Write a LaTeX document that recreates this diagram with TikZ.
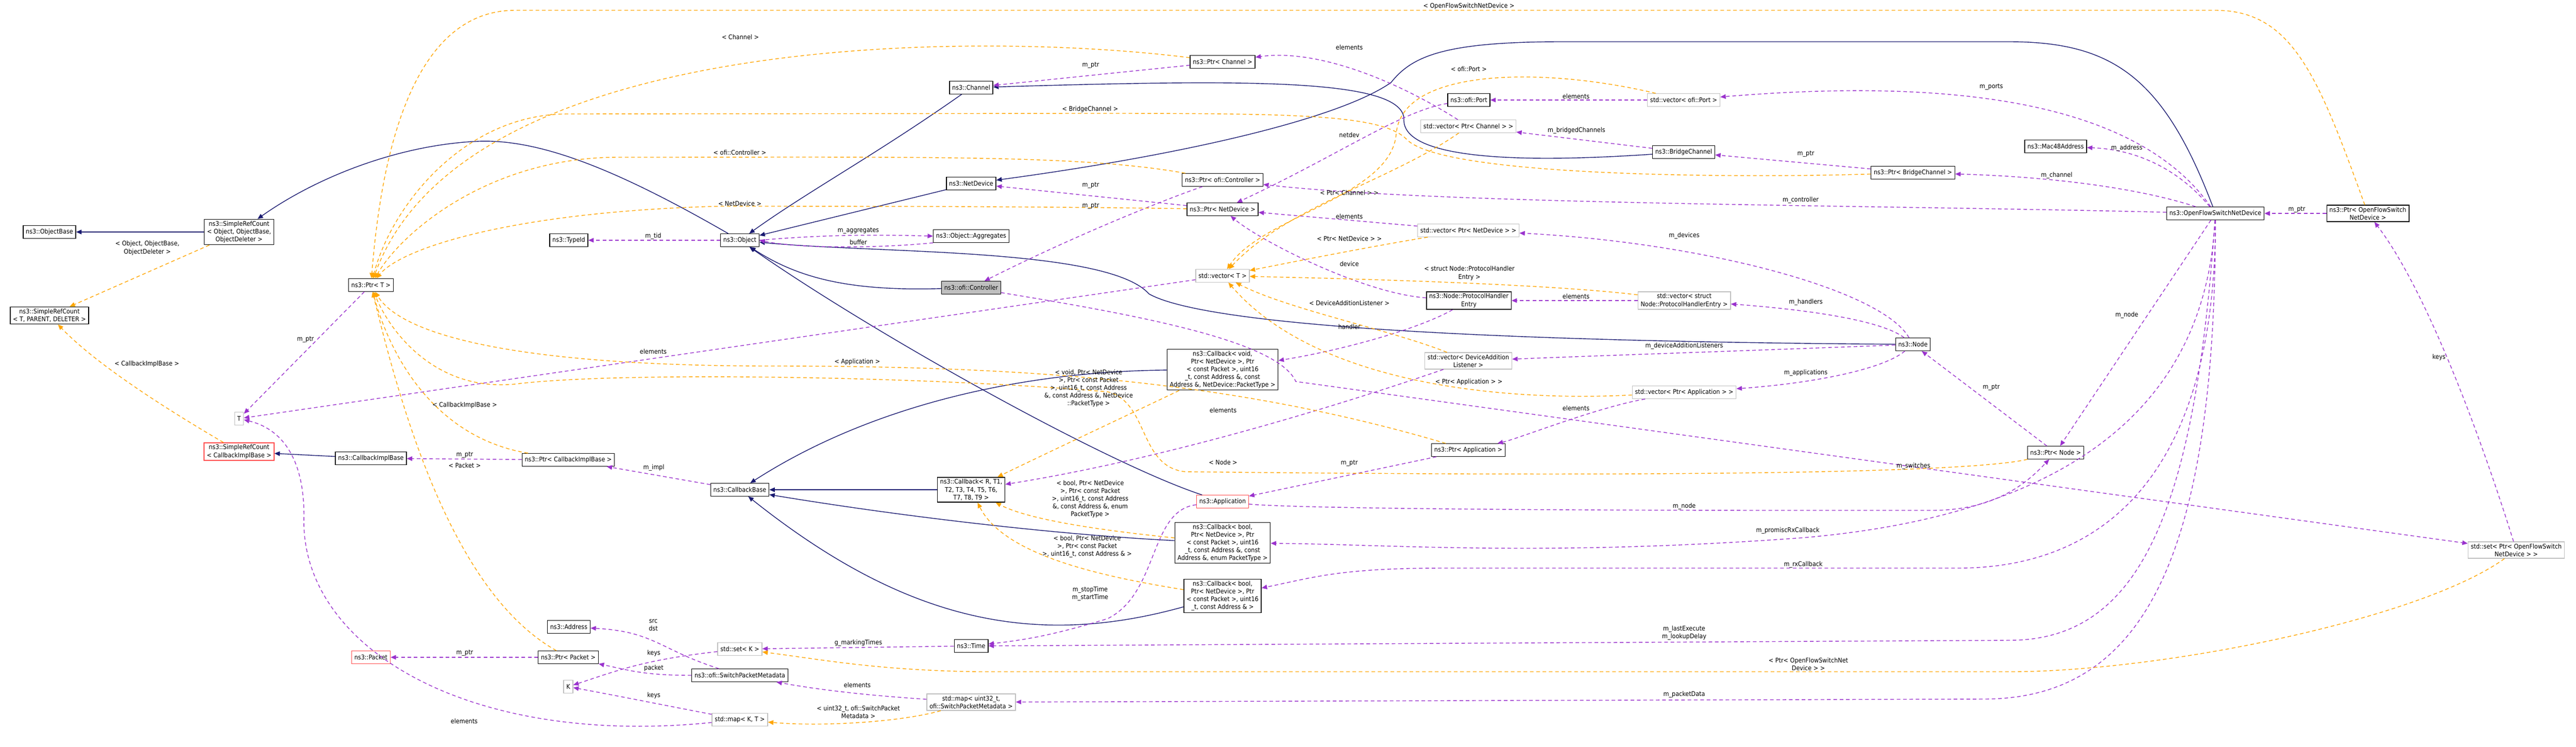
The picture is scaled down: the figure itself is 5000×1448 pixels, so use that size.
\documentclass[tikz,border=0pt]{standalone}
\usepackage{fontspec}
\setmainfont{DejaVu Sans Condensed}
\usetikzlibrary{arrows.meta}
\definecolor{navy}{HTML}{191970}
\definecolor{purp}{HTML}{9A32CD}
\definecolor{orng}{HTML}{FFA500}
\definecolor{gbord}{HTML}{BFBFBF}
\definecolor{rbord}{HTML}{FF0000}
\begin{document}
\begin{tikzpicture}[x=0.02cm,y=-0.02cm,
  every node/.style={font=\fontsize{7.1pt}{8.6pt}\selectfont},
  box/.style={draw=black,line width=0.8pt,fill=white,align=center,inner xsep=3pt,inner ysep=2pt,minimum height=14pt},
  gbox/.style={box,draw=gbord},
  rbox/.style={box,draw=rbord!70},
  sel/.style={box,fill=black!25},
  lab/.style={align=center,inner sep=0pt},
  inh/.style={draw=navy,line width=0.8pt,-{Triangle[length=6pt,width=5pt]}},
  use/.style={draw=purp,line width=0.8pt,dash pattern=on 4pt off 3pt,-{Triangle[length=6pt,width=5pt]}},
  tmpl/.style={draw=orng,line width=0.8pt,dash pattern=on 4pt off 3pt,-{Triangle[length=6pt,width=5pt]}}]
\useasboundingbox (0,0) rectangle (5000,1448);
% nodes
\node[box] (ob) at (96,450) {ns3::ObjectBase};
\node[box] (srco) at (464,450) {ns3::SimpleRefCount\\ {<} Object, ObjectBase,\\ ObjectDeleter {>}};
\node[box] (srct) at (96,612) {ns3::SimpleRefCount\\ {<} T, PARENT, DELETER {>}};
\node[box] (ptrt) at (720,553) {ns3::Ptr{<} T {>}};
\node[gbox] (tt) at (464,812) {T};
\node[rbox] (srcc) at (464,876) {ns3::SimpleRefCount\\ {<} CallbackImplBase {>}};
\node[box] (cbib) at (720,889) {ns3::CallbackImplBase};
\node[rbox] (pkt) at (720,1275) {ns3::Packet};
\node[box] (typeid) at (1104,466) {ns3::TypeId};
\node[box] (obj) at (1436,466) {ns3::Object};
\node[box] (agg) at (1885,458) {ns3::Object::Aggregates};
\node[box] (chan) at (1885,170) {ns3::Channel};
\node[box] (netdev) at (1885,356) {ns3::NetDevice};
\node[sel] (ctrl) at (1885,558) {ns3::ofi::Controller};
\node[box] (pcbib) at (1103,892) {ns3::Ptr{<} CallbackImplBase {>}};
\node[box] (cbb) at (1436,950) {ns3::CallbackBase};
\node[box] (cbr) at (1885,950) {ns3::Callback{<} R, T1,\\ T2, T3, T4, T5, T6,\\ T7, T8, T9 {>}};
\node[box] (addr) at (1104,1216) {ns3::Address};
\node[box] (ppkt) at (1103,1275) {ns3::Ptr{<} Packet {>}};
\node[gbox] (kk) at (1103,1332) {K};
\node[gbox] (setk) at (1436,1259) {std::set{<} K {>}};
\node[box] (spm) at (1436,1310) {ns3::ofi::SwitchPacketMetadata};
\node[gbox] (mapkt) at (1436,1396) {std::map{<} K, T {>}};
\node[box] (time) at (1885,1253) {ns3::Time};
\node[gbox] (mapu) at (1885,1362) {std::map{<} uint32\_t,\\ ofi::SwitchPacketMetadata {>}};
\node[box] (pchan) at (2373,120) {ns3::Ptr{<} Channel {>}};
\node[box] (port) at (2851,194) {ns3::ofi::Port};
\node[gbox] (vport) at (3268,194) {std::vector{<} ofi::Port {>}};
\node[gbox] (vchan) at (2850,245) {std::vector{<} Ptr{<} Channel {>} {>}};
\node[box] (bridge) at (3268,295) {ns3::BridgeChannel};
\node[box] (pctrl) at (2373,349) {ns3::Ptr{<} ofi::Controller {>}};
\node[box] (pnd) at (2373,406) {ns3::Ptr{<} NetDevice {>}};
\node[gbox] (vnd) at (2850,447) {std::vector{<} Ptr{<} NetDevice {>} {>}};
\node[gbox] (vt) at (2373,535) {std::vector{<} T {>}};
\node[box] (phe) at (2851,583) {ns3::Node::ProtocolHandler\\Entry};
\node[gbox] (vphe) at (3269,583) {std::vector{<} struct\\ Node::ProtocolHandlerEntry {>}};
\node[box] (cbv) at (2373,717) {ns3::Callback{<} void,\\ Ptr{<} NetDevice {>}, Ptr\\ {<} const Packet {>}, uint16\\ \_t, const Address \&, const\\ Address \&, NetDevice::PacketType {>}};
\node[gbox] (vdal) at (2850,700) {std::vector{<} DeviceAddition\\Listener {>}};
\node[gbox] (vapp) at (3269,761) {std::vector{<} Ptr{<} Application {>} {>}};
\node[box] (papp) at (2850,873) {ns3::Ptr{<} Application {>}};
\node[rbox] (app) at (2373,973) {ns3::Application};
\node[box] (cbbe) at (2373,1053) {ns3::Callback{<} bool,\\ Ptr{<} NetDevice {>}, Ptr\\ {<} const Packet {>}, uint16\\ \_t, const Address \&, const\\ Address \&, enum PacketType {>}};
\node[box] (cbba) at (2373,1156) {ns3::Callback{<} bool,\\ Ptr{<} NetDevice {>}, Ptr\\ {<} const Packet {>}, uint16\\ \_t, const Address \& {>}};
\node[box] (mac) at (3990,284) {ns3::Mac48Address};
\node[box] (pbridge) at (3713,335) {ns3::Ptr{<} BridgeChannel {>}};
\node[box] (ofs) at (4300,414) {ns3::OpenFlowSwitchNetDevice};
\node[box] (pofs) at (4596,414) {ns3::Ptr{<} OpenFlowSwitch\\NetDevice {>}};
\node[box] (nnode) at (3713,668) {ns3::Node};
\node[box] (pnode) at (3990,878) {ns3::Ptr{<} Node {>}};
\node[gbox] (setofs) at (4884,1067) {std::set{<} Ptr{<} OpenFlowSwitch\\NetDevice {>} {>}};
% inheritance
\draw[inh] (srco) -- (ob);
\draw[inh] (obj) .. controls (1200,330) and (1050,270) .. (930,274) .. controls (780,280) and (620,340) .. (srco);
\draw[inh] (cbib) -- (srcc);
\draw[inh] (chan) .. controls (1700,300) and (1570,370) .. (obj);
\draw[inh] (netdev) -- (obj);
\draw[inh] (ctrl) .. controls (1650,565) and (1550,540) .. (obj);
\draw[inh] (nnode) .. controls (2600,660) and (2300,610) .. (2230,570) .. controls (2150,480) and (1700,492) .. (obj);
\draw[inh] (app) .. controls (2150,900) and (1700,650) .. (obj);
\draw[inh] (bridge) .. controls (2900,320) and (2720,300) .. (2725,230) .. controls (2720,150) and (2400,155) .. (chan);
\draw[inh] (ofs) .. controls (4200,150) and (4100,81) .. (3900,81) -- (3030,81) .. controls (2800,81) and (2740,110) .. (2700,160) .. controls (2600,230) and (2300,300) .. (netdev);
\draw[inh] (cbv) .. controls (2000,720) and (1700,780) .. (cbb);
\draw[inh] (cbr) -- (cbb);
\draw[inh] (cbbe) .. controls (2100,1040) and (1800,1010) .. (cbb);
\draw[inh] (cbba) .. controls (2000,1260) and (1750,1200) .. (cbb);
% usage
\draw[use] (ptrt) -- (tt);
\draw[use] (obj) -- (typeid);
\draw[use] (obj.east) .. controls (1600,455) and (1700,455) .. (agg.west);
\draw[use] (agg.south west) .. controls (1700,482) and (1550,482) .. (obj.east);
\draw[use] (pctrl) .. controls (2280,380) and (2100,450) .. (ctrl);
\draw[use] (pchan) -- (chan);
\draw[use] (pnd) -- (netdev);
\draw[use] (vt) -- (tt);
\draw[use] (mapkt) .. controls (900,1450) and (580,1250) .. (590,1000) .. controls (590,880) and (540,830) .. (tt);
\draw[use] (pcbib) -- (cbib);
\draw[use] (ppkt) -- (pkt);
\draw[use] (cbb) -- (pcbib);
\draw[use] (spm) .. controls (1280,1260) and (1270,1225) .. (addr);
\draw[use] (spm) .. controls (1250,1310) and (1220,1300) .. (ppkt);
\draw[use] (setk) .. controls (1250,1280) and (1200,1300) .. (kk);
\draw[use] (mapkt) .. controls (1300,1370) and (1200,1350) .. (kk);
\draw[use] (mapu) .. controls (1700,1350) and (1600,1340) .. (spm);
\draw[use] (time) -- (setk);
\draw[use] (app) .. controls (2230,990) and (2250,1150) .. (2150,1200) .. controls (2050,1230) and (2000,1240) .. (time);
\draw[use] (ofs) .. controls (4260,1000) and (4150,1242) .. (3900,1242) -- (time);
\draw[use] (ofs) .. controls (4300,1100) and (4150,1356) .. (3850,1356) -- (mapu);
\draw[use] (ofs) .. controls (4300,900) and (4100,1102) .. (3800,1102) -- (2800,1102) .. controls (2600,1102) and (2550,1120) .. (cbba);
\draw[use] (ofs) .. controls (4280,800) and (4000,1000) .. (3500,1043) .. controls (3000,1080) and (2700,1056) .. (cbbe);
\draw[use] (ofs) -- (pnode);
\draw[use] (app) .. controls (2500,985) and (2900,990) .. (3500,990) -- (3750,990) .. controls (3880,990) and (3940,930) .. (pnode);
\draw[use] (pnode) -- (nnode);
\draw[use] (nnode) .. controls (3650,560) and (3300,470) .. (vnd);
\draw[use] (nnode) .. controls (3650,620) and (3500,600) .. (vphe);
\draw[use] (nnode) .. controls (3400,680) and (3100,690) .. (vdal);
\draw[use] (nnode) .. controls (3650,720) and (3500,745) .. (vapp);
\draw[use] (vapp) .. controls (3100,790) and (2950,850) .. (papp);
\draw[use] (papp) -- (app);
\draw[use] (vnd) -- (pnd);
\draw[use] (vchan) .. controls (2700,150) and (2550,95) .. (pchan);
\draw[use] (phe) .. controls (2650,570) and (2450,470) .. (pnd);
\draw[use] (phe) .. controls (2750,640) and (2600,680) .. (cbv);
\draw[use] (vport) -- (port);
\draw[use] (port) .. controls (2720,215) and (2600,300) .. (pnd);
\draw[use] (vphe) -- (phe);
\draw[use] (bridge) -- (vchan);
\draw[use] (pbridge) -- (bridge);
\draw[use] (ofs) .. controls (4200,380) and (4050,345) .. (pbridge);
\draw[use] (ofs) .. controls (4230,330) and (4150,290) .. (mac);
\draw[use] (ofs) .. controls (4150,200) and (3800,150) .. (vport);
\draw[use] (ofs) .. controls (3600,397) and (2800,397) .. (pctrl);
\draw[use] (pofs) -- (ofs);
\draw[use] (setofs) .. controls (4800,800) and (4700,550) .. (pofs);
\draw[use] (ctrl) .. controls (2200,610) and (2480,660) .. (2515,740) -- (setofs);
\draw[use] (vdal) .. controls (2500,820) and (2200,900) .. (cbr);
% templates
\draw[tmpl] (srco) -- (srct);
\draw[tmpl] (srcc) .. controls (300,780) and (180,700) .. (srct);
\draw[tmpl] (pcbib) .. controls (850,850) and (760,700) .. (ptrt);
\draw[tmpl] (ppkt) .. controls (880,1150) and (780,800) .. (ptrt);
\draw[tmpl] (pchan) .. controls (1900,60) and (900,60) .. (ptrt);
\draw[tmpl] (pbridge) .. controls (3400,345) and (2800,345) .. (2730,270) .. controls (2680,220) and (2500,220) .. (2100,220) -- (1100,221) .. controls (900,222) and (760,400) .. (ptrt);
\draw[tmpl] (pctrl) .. controls (2100,300) and (1800,305) .. (1200,305) .. controls (950,305) and (780,450) .. (ptrt);
\draw[tmpl] (pnd) .. controls (2000,400) and (1600,400) .. (1400,400) .. controls (1000,410) and (780,480) .. (ptrt);
\draw[tmpl] (papp) .. controls (2400,740) and (2000,710) .. (1500,710) .. controls (1000,710) and (780,650) .. (ptrt);
\draw[tmpl] (pofs) .. controls (4500,150) and (4450,20) .. (4300,20) -- (1000,20) .. controls (800,20) and (740,300) .. (ptrt);
\draw[tmpl] (pnode) .. controls (3800,923) and (3000,923) .. (2300,915) .. controls (2210,905) and (2230,780) .. (2150,760) .. controls (1800,730) and (1200,720) .. (1000,745) .. controls (850,760) and (760,650) .. (ptrt);
\draw[tmpl] (cbv) .. controls (2200,800) and (2050,870) .. (cbr);
\draw[tmpl] (cbbe) .. controls (2150,1030) and (2000,1010) .. (cbr);
\draw[tmpl] (cbba) .. controls (2150,1120) and (1950,1080) .. (cbr);
\draw[tmpl] (vchan) .. controls (2700,350) and (2500,400) .. (vt);
\draw[tmpl] (vnd) .. controls (2650,480) and (2500,510) .. (vt);
\draw[tmpl] (vphe) .. controls (3000,550) and (2600,540) .. (vt);
\draw[tmpl] (vdal) .. controls (2700,640) and (2500,600) .. (vt);
\draw[tmpl] (vapp) .. controls (2900,780) and (2550,740) .. (vt);
\draw[tmpl] (vport) .. controls (3000,130) and (2720,130) .. (2710,260) .. controls (2700,380) and (2450,420) .. (vt);
\draw[tmpl] (mapu) .. controls (1750,1400) and (1600,1410) .. (mapkt);
\draw[tmpl] (setofs) .. controls (4700,1200) and (4200,1303) .. (3900,1303) -- (1900,1303) .. controls (1700,1300) and (1600,1280) .. (setk);
% labels
\node[lab] at (286,481) {{<} Object, ObjectBase,\\ ObjectDeleter {>}};
\node[lab] at (593,659) {m\_ptr};
\node[lab] at (285,706) {{<} CallbackImplBase {>}};
\node[lab] at (902,786) {{<} CallbackImplBase {>}};
\node[lab] at (902,883) {m\_ptr};
\node[lab] at (902,903) {{<} Packet {>}};
\node[lab] at (902,1267) {m\_ptr};
\node[lab] at (901,1399) {elements};
\node[lab] at (1437,72) {{<} Channel {>}};
\node[lab] at (2117,127) {m\_ptr};
\node[lab] at (2116,212) {{<} BridgeChannel {>}};
\node[lab] at (1436,296) {{<} ofi::Controller {>}};
\node[lab] at (2117,360) {m\_ptr};
\node[lab] at (1436,395) {{<} NetDevice {>}};
\node[lab] at (2117,400) {m\_ptr};
\node[lab] at (1268,458) {m\_tid};
\node[lab] at (1666,448) {m\_aggregates};
\node[lab] at (1666,470) {buffer};
\node[lab] at (1268,682) {elements};
\node[lab] at (1664,702) {{<} Application {>}};
\node[lab] at (2113,753) {{<} void, Ptr{<} NetDevice\\ {>}, Ptr{<} const Packet\\ {>}, uint16\_t, const Address\\ \&, const Address \&, NetDevice\\ ::PacketType {>}};
\node[lab] at (1269,907) {m\_impl};
\node[lab] at (2116,968) {{<} bool, Ptr{<} NetDevice\\ {>}, Ptr{<} const Packet\\ {>}, uint16\_t, const Address\\ \&, const Address \&, enum\\ PacketType {>}};
\node[lab] at (2110,1060) {{<} bool, Ptr{<} NetDevice\\ {>}, Ptr{<} const Packet\\ {>}, uint16\_t, const Address \& {>}};
\node[lab] at (2116,1152) {m\_stopTime\\m\_startTime};
\node[lab] at (1268,1213) {src\\dst};
\node[lab] at (1269,1267) {keys};
\node[lab] at (1666,1247) {g\_markingTimes};
\node[lab] at (1269,1296) {packet};
\node[lab] at (1664,1329) {elements};
\node[lab] at (1269,1349) {keys};
\node[lab] at (1666,1381) {{<} uint32\_t, ofi::SwitchPacket\\Metadata {>}};
\node[lab] at (2851,12) {{<} OpenFlowSwitchNetDevice {>}};
\node[lab] at (2619,92) {elements};
\node[lab] at (2851,134) {{<} ofi::Port {>}};
\node[lab] at (3059,187) {elements};
\node[lab] at (3060,253) {m\_bridgedChannels};
\node[lab] at (2619,262) {netdev};
\node[lab] at (2619,374) {{<} Ptr{<} Channel {>} {>}};
\node[lab] at (2619,420) {elements};
\node[lab] at (3269,457) {m\_devices};
\node[lab] at (2619,463) {{<} Ptr{<} NetDevice {>} {>}};
\node[lab] at (2619,512) {device};
\node[lab] at (2852,530) {{<} struct Node::ProtocolHandler\\Entry {>}};
\node[lab] at (3059,575) {elements};
\node[lab] at (2619,588) {{<} DeviceAdditionListener {>}};
\node[lab] at (2619,634) {handler};
\node[lab] at (3269,671) {m\_deviceAdditionListeners};
\node[lab] at (2851,741) {{<} Ptr{<} Application {>} {>}};
\node[lab] at (2374,796) {elements};
\node[lab] at (3059,792) {elements};
\node[lab] at (2374,897) {{<} Node {>}};
\node[lab] at (2619,899) {m\_ptr};
\node[lab] at (3269,982) {m\_node};
\node[lab] at (3269,1228) {m\_lastExecute\\m\_lookupDelay};
\node[lab] at (3269,1347) {m\_packetData};
\node[lab] at (3510,1288) {{<} Ptr{<} OpenFlowSwitchNet\\Device {>} {>}};
\node[lab] at (3470,1029) {m\_promiscRxCallback};
\node[lab] at (3500,1095) {m\_rxCallback};
\node[lab] at (3505,723) {m\_applications};
\node[lab] at (3505,586) {m\_handlers};
\node[lab] at (3495,388) {m\_controller};
\node[lab] at (3505,299) {m\_ptr};
\node[lab] at (3865,169) {m\_ports};
\node[lab] at (4128,287) {m\_address};
\node[lab] at (3992,340) {m\_channel};
\node[lab] at (4458,407) {m\_ptr};
\node[lab] at (4128,611) {m\_node};
\node[lab] at (4734,693) {keys};
\node[lab] at (3865,752) {m\_ptr};
\node[lab] at (3714,904) {m\_switches};
\end{tikzpicture}
\end{document}
